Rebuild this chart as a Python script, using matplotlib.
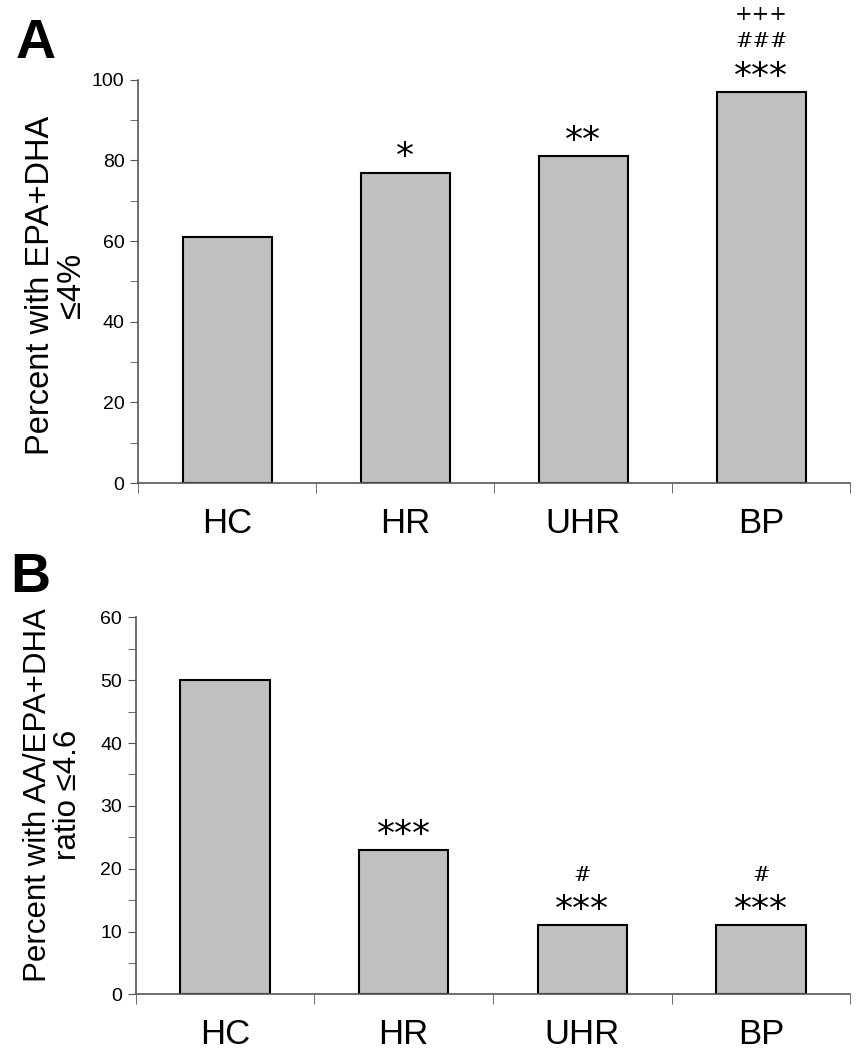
import matplotlib
matplotlib.use('Agg')
import matplotlib.pyplot as plt
import numpy as np

plt.rcParams['font.family'] = ['Liberation Sans', 'DejaVu Sans']

groups = ['HC', 'HR', 'UHR', 'BP']
vals_a = [61, 77, 81, 97]
vals_b = [50, 23, 11, 11]
stars_a = ['', '*', '**', '***']
hash_a = ['', '', '', '###']
plus_a = ['', '', '', '+++']
stars_b = ['', '***', '***', '***']
hash_b = ['', '', '#', '#']
plus_b = ['', '', '', '']
ylabel_a = 'Percent with EPA+DHA\n≤4%'
ylabel_b = 'Percent with AA/EPA+DHA\nratio ≤4.6'

fig = plt.figure(figsize=(8.65, 10.5), dpi=100)
ax_a = fig.add_axes([0.160, 0.540, 0.823, 0.384])
ax_b = fig.add_axes([0.157, 0.053, 0.826, 0.359])


def panel(ax, vals, stars, hashes, pluses, ymax, major, minor, ylabel, lab_size, lab_x, lab_y):
    x = np.arange(len(vals))
    ax.bar(x, vals, width=0.5, color='#c0c0c0', edgecolor='black', linewidth=1.5)
    ax.set_xlim(-0.5, len(vals) - 0.5)
    ax.set_ylim(0, ymax)
    ax.set_yticks(np.arange(0, ymax + 1, major))
    ax.set_yticks(np.arange(0, ymax + 1, minor), minor=True)
    ax.set_xticks(x)
    ax.set_xticklabels(groups, fontsize=25)
    ax.set_xticks(np.arange(-0.5, len(vals), 1.0), minor=True)
    ax.tick_params(axis='x', which='major', length=0, pad=17)
    ax.tick_params(axis='x', which='minor', length=7, color='#555555', direction='out')
    ax.tick_params(axis='y', which='both', length=6, color='#555555', labelsize=14, pad=4)
    for s in ['top', 'right']:
        ax.spines[s].set_visible(False)
    for s in ['left', 'bottom']:
        ax.spines[s].set_color('#555555')
        ax.spines[s].set_linewidth(1.2)
    ax.set_ylabel(ylabel, fontsize=lab_size, linespacing=1.0)
    ax.yaxis.set_label_coords(lab_x, lab_y)
    for i, v in enumerate(vals):
        if stars[i]:
            ax.annotate(stars[i], (i, v), xytext=(0, 11), textcoords='offset points',
                        ha='center', va='center', fontsize=26, family='DejaVu Sans')
        if hashes[i]:
            ax.annotate(hashes[i], (i, v), xytext=(0, 36), textcoords='offset points',
                        ha='center', va='center', fontsize=15, family='DejaVu Serif')
        if pluses[i]:
            ax.annotate(pluses[i], (i, v), xytext=(0, 56), textcoords='offset points',
                        ha='center', va='center', fontsize=15, family='DejaVu Serif')


panel(ax_a, vals_a, stars_a, hash_a, plus_a, 100, 20, 10, ylabel_a, 23.5, -0.072, 0.49)
panel(ax_b, vals_b, stars_b, hash_b, plus_b, 60, 10, 5, ylabel_b, 22.5, -0.074, 0.53)

fig.text(0.018, 0.958, 'A', fontsize=40, fontweight='bold', ha='left', va='center')
fig.text(0.012, 0.450, 'B', fontsize=40, fontweight='bold', ha='left', va='center')

fig.savefig('out.png', dpi=100)
